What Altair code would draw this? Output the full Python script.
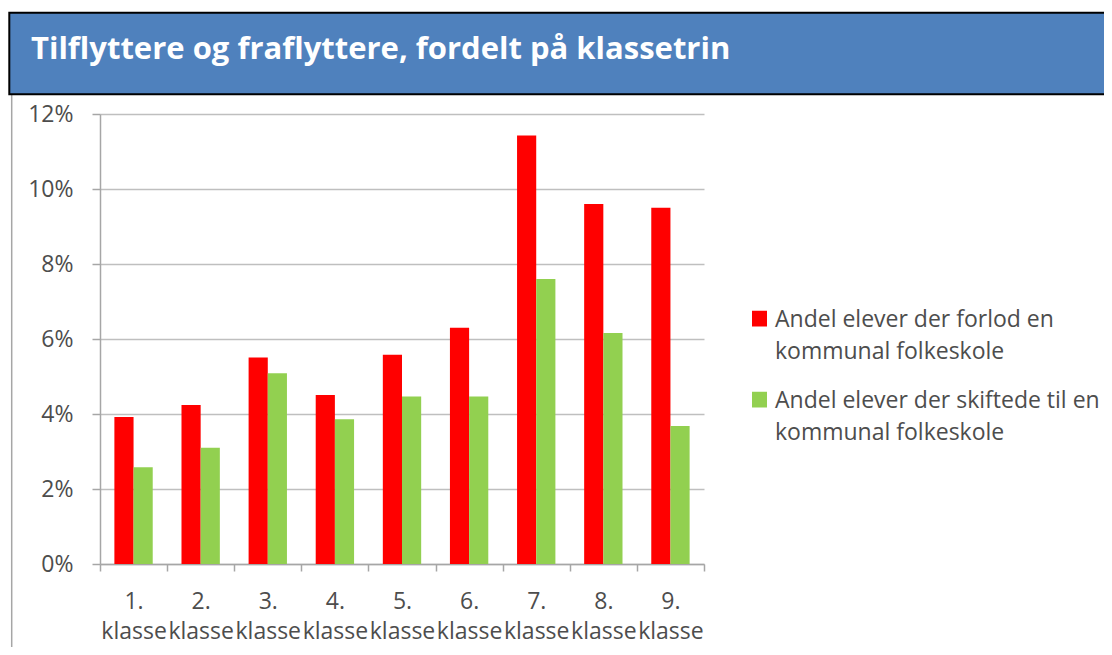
import altair as alt
import pandas as pd

title_text = "Tilflyttere og fraflyttere, fordelt på klassetrin"
klasser = ["1. klasse", "2. klasse", "3. klasse", "4. klasse", "5. klasse",
           "6. klasse", "7. klasse", "8. klasse", "9. klasse"]
series = ["Andel elever der forlod en kommunal folkeskole",
          "Andel elever der skiftede til en kommunal folkeskole"]
forlod = [3.92, 4.24, 5.51, 4.51, 5.58, 6.30, 11.43, 9.60, 9.50]
skiftede = [2.58, 3.10, 5.09, 3.86, 4.47, 4.47, 7.60, 6.16, 3.68]
colors = ["#FF0000", "#92D050"]
y_ticks = [0, 0.02, 0.04, 0.06, 0.08, 0.10, 0.12]

rows = []
for i, k in enumerate(klasser):
    rows.append({"klasse": k, "serie": series[0], "andel": forlod[i] / 100})
    rows.append({"klasse": k, "serie": series[1], "andel": skiftede[i] / 100})
df = pd.DataFrame(rows)

FONT = "Open Sans"
TXT = "#4D4D4D"

bars = alt.Chart(df).mark_bar().encode(
    x=alt.X("klasse:N", sort=klasser, title=None,
            scale=alt.Scale(paddingInner=0, paddingOuter=0),
            axis=alt.Axis(labelAngle=0, labelExpr="split(datum.label, ' ')",
                          tickBand="extent", tickSize=7, tickWidth=1.5,
                          labelPadding=19, labelLineHeight=30, grid=False,
                          domainWidth=1.5)),
    xOffset=alt.XOffset("serie:N", sort=series,
                        scale=alt.Scale(paddingInner=0, paddingOuter=0.75)),
    y=alt.Y("andel:Q", title=None,
            scale=alt.Scale(domain=[0, 0.12], nice=False),
            axis=alt.Axis(format=".0%", values=y_ticks, grid=True, gridWidth=1.5,
                          tickSize=8, tickWidth=1.5, labelPadding=19,
                          domainWidth=1.5)),
    color=alt.Color("serie:N", sort=series, title=None,
                    scale=alt.Scale(domain=series, range=colors),
                    legend=alt.Legend(orient="none", legendX=648, legendY=201,
                                      symbolType="M-1,-2.1H1V0H-1Z", symbolSize=225,
                                      symbolStrokeWidth=0, labelFont=FONT,
                                      labelFontSize=23, labelColor=TXT,
                                      labelLimit=400, labelBaseline="alphabetic",
                                      labelOffset=4, rowPadding=25, padding=0,
                                      labelExpr="split(replace(datum.label, 'en kommunal', 'en|kommunal'), '|')")),
)

one = pd.DataFrame({"t": [title_text]})

leftline = alt.Chart(one).mark_rule(color="#A6A6A6", strokeWidth=1.5).encode(
    x=alt.value(-88.3), y=alt.value(-19), y2=alt.value(545))

banner = alt.Chart(one).mark_rect(fill="#4F81BD", stroke="#000000", strokeWidth=2).encode(
    x=alt.value(-90.7), x2=alt.value(1020), y=alt.value(-101.3), y2=alt.value(-19.7))

title = alt.Chart(one).mark_text(align="left", baseline="alphabetic", font=FONT,
                                 fontSize=31, fontWeight="bold", color="#FFFFFF").encode(
    x=alt.value(-69), y=alt.value(-54.7), text="t:N")

chart = alt.layer(leftline, banner, title, bars).properties(
    width=604, height=450,
    autosize=alt.AutoSizeParams(type="none"),
    padding={"left": 92, "top": 106, "right": 400, "bottom": 83},
).configure(
    view=alt.ViewConfig(strokeWidth=0),
    axis=alt.AxisConfig(labelFont=FONT, labelFontSize=23, labelColor=TXT,
                        domainColor="#A6A6A6", tickColor="#A6A6A6",
                        gridColor="#BFBFBF"),
    style={"guide-label": {"lineHeight": 32}},
)

chart.save("out.html", embed_options={"renderer": "svg", "actions": False})
